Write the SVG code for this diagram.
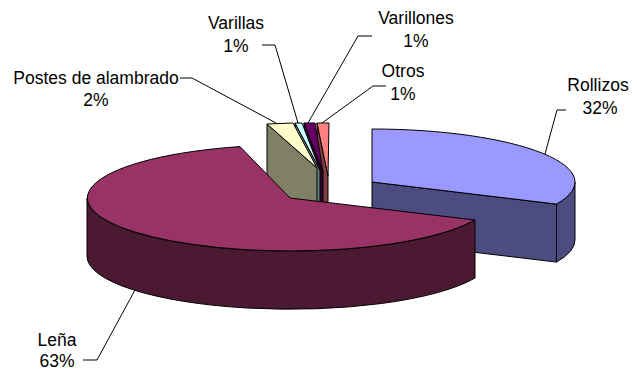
<svg xmlns="http://www.w3.org/2000/svg" width="637" height="372" viewBox="0 0 637 372">
<style>
.s{stroke:#000;stroke-width:1;stroke-linejoin:round}
.lead{fill:none;stroke:#000;stroke-width:1}
text{font-family:"Liberation Sans",Arial,sans-serif;font-size:17.5px;fill:#000;text-anchor:middle}
</style>
<rect width="637" height="372" fill="#fff"/>
<g id="rollizos">
<path class="s" fill="#4c4c80" d="M372,182 L556.5,204.1 L556.5,262.1 L372,240 Z"/>
<path class="s" fill="#4c4c80" d="M575,182 A203,53 0 0,1 556.5,204.1 L556.5,262.1 A203,53 0 0,0 575,240 Z"/>
<path class="s" fill="#9999ff" d="M372,182 L372,129 A203,53 0 0,1 556.5,204.1 Z"/>
</g>
<g id="otros">
<path class="s" fill="#804040" d="M317,123 L328,176 L328,234 L317,181 Z"/>
<path class="s" fill="#ff8080" d="M317,123 L329,123 L328,176 Z"/>
</g>
<g id="varillones">
<path class="s" fill="#330033" d="M304,123 L323,172 L323,230 L304,181 Z"/>
<path class="s" fill="#660066" d="M304,123 L315,123 L323,172 Z"/>
</g>
<g id="varillas">
<path class="s" fill="#668080" d="M295,123 L320,170 L320,228 L295,181 Z"/>
<path class="s" fill="#ccffff" d="M295,123 L302,123 L320,170 Z"/>
</g>
<g id="postes">
<path class="s" fill="#808066" d="M267,124 L317,168 L317,226 L267,182 Z"/>
<path class="s" fill="#ffffcc" d="M267,124 L293,123 L317,168 Z"/>
</g>
<g id="lena">
<path class="s" fill="#4c1933" d="M475,220 A203,53 0 0,1 87,198 L87,256 A203,53 0 0,0 475,278 Z"/>
<path class="s" fill="#993366" d="M290,198 L475,220 A203,53 0 1,1 240,146.6 Z"/>
</g>
<g id="connectors">
<polyline class="lead" points="566,110 557,110 545,154"/>
<polyline class="lead" points="135,290 97,360 83,360"/>
<polyline class="lead" points="180,78 192,78 276,123"/>
<polyline class="lead" points="262,45 275,45 298,123"/>
<polyline class="lead" points="372,36 358,36 308,123"/>
<polyline class="lead" points="386,86 373,86 322,123"/>
</g>
<g id="labels">
<text x="598" y="91">Rollizos</text>
<text x="600" y="114">32%</text>
<text x="57" y="346">Leña</text>
<text x="57" y="367">63%</text>
<text x="96" y="84">Postes de alambrado</text>
<text x="96" y="106">2%</text>
<text x="236" y="29">Varillas</text>
<text x="236" y="52">1%</text>
<text x="416" y="24">Varillones</text>
<text x="416" y="47">1%</text>
<text x="403" y="77">Otros</text>
<text x="403" y="100">1%</text>
</g>
</svg>
